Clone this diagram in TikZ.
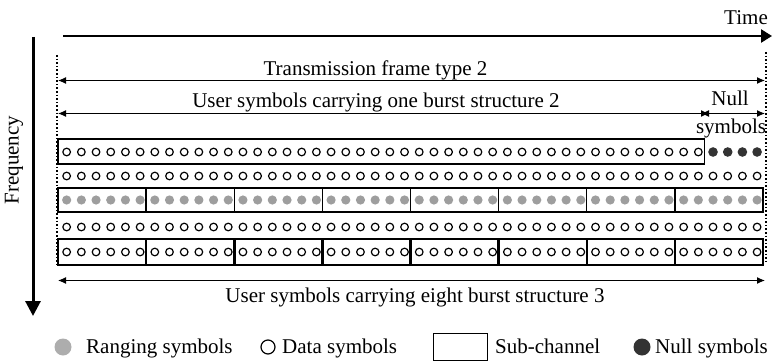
\documentclass[tikz,border=0pt]{standalone}
\usepackage{fontspec}
\setmainfont{Liberation Serif}
\usetikzlibrary{arrows.meta}
\definecolor{rangegray}{HTML}{9E9E9E}
\definecolor{nullgray}{HTML}{333333}
\begin{document}
\begin{tikzpicture}[x=1pt,y=-1pt,
  lbl/.style={font=\fontsize{21}{24}\selectfont, inner sep=0pt},
  thinarrow/.style={line width=1pt, {Latex[length=8pt,width=7pt]}-{Latex[length=8pt,width=7pt]}},
  dcirc/.style={draw=black, line width=1.2pt},
  rcirc/.style={fill=rangegray},
  ncirc/.style={fill=nullgray},
  thinbox/.style={draw=black, line width=1.3pt},
  thickbox/.style={draw=black, line width=2.5pt},
  guide/.style={dotted, line width=1.6pt}]
\useasboundingbox (0,0) rectangle (773,361);
\def\s{14.69}
% axes
\coordinate (t0) at (63,36);
\coordinate (t1) at (772,36);
\draw[line width=2.5pt, -{Triangle[length=11pt,width=13pt]}] (t0) -- (t1);
\node[lbl, anchor=base east] (time) at (768,25) {Time};
\coordinate (f0) at (33,37);
\coordinate (f1) at (33,316);
\draw[line width=3pt, -{Triangle[length=15pt,width=15pt]}] (f0) -- (f1);
\node[lbl, rotate=90] (freq) at (14,160) {Frequency};
% dotted guides
\coordinate (g0) at (57,55);
\coordinate (g1) at (57,264);
\coordinate (g2) at (766,52);
\coordinate (g3) at (766,263);
\draw[guide] (g0) -- (g1);
\draw[guide] (g2) -- (g3);
% dimension arrows
\coordinate (a0) at (58,80.5);
\coordinate (a1) at (765,80.5);
\draw[thinarrow] (a0) -- (a1);
\node[lbl, anchor=base] (tft) at (375.5,75) {Transmission frame type 2};
\coordinate (b0) at (58,113.5);
\coordinate (b1) at (709,113.5);
\coordinate (b2) at (701,113.5);
\coordinate (b3) at (765,113.5);
\draw[thinarrow] (b0) -- (b1);
\draw[thinarrow] (b2) -- (b3);
\node[lbl, anchor=base] (usr2) at (376,107.5) {User symbols carrying one burst structure 2};
\node[lbl, anchor=base] (null) at (730,105) {Null};
\node[lbl, anchor=base] (nsym) at (731,133) {symbols};
\coordinate (c0) at (58,280.5);
\coordinate (c1) at (765,280.5);
\draw[thinarrow] (c0) -- (c1);
\node[lbl, anchor=base] (usr3) at (415,302) {User symbols carrying eight burst structure 3};
% row 1
\draw[thinbox] (58,139) rectangle ({58+44*\s},164);
\foreach \i in {0,...,43} \draw[dcirc] ({58+\s*(\i+0.59)},152) circle (3.8);
\foreach \i in {44,...,47} \fill[ncirc] ({58+\s*(\i+0.59)},152) circle (4.8);
% row 2
\foreach \i in {0,...,47} \draw[dcirc] ({58+\s*(\i+0.59)},176) circle (3.8);
% row 3
\foreach \k in {0,...,7} \draw[thinbox] ({58+6*\k*\s},188) rectangle ({58+6*(\k+1)*\s},212);
\foreach \i in {0,...,47} \fill[rcirc] ({58+\s*(\i+0.59)},200) circle (4.6);
% row 4
\foreach \i in {0,...,47} \draw[dcirc] ({58+\s*(\i+0.59)},227) circle (3.8);
% row 5
\foreach \k in {0,...,7} \draw[thickbox] ({58+6*\k*\s},239) rectangle ({58+6*(\k+1)*\s},265);
\foreach \i in {0,...,47} \draw[dcirc] ({58+\s*(\i+0.59)},252) circle (3.8);
% legend
\fill[rcirc, fill=rangegray!85] (63,347) circle (8.5);
\node[lbl, anchor=base west] (lr) at (86,353) {Ranging symbols};
\draw[dcirc] (268,347) circle (7);
\node[lbl, anchor=base west] (ld) at (282,353) {Data symbols};
\draw[line width=1pt] (433,333) rectangle (487,360);
\node[lbl, anchor=base west] (ls) at (495,353) {Sub-channel};
\fill[ncirc] (642,347) circle (8.5);
\node[lbl, anchor=base west] (ln) at (655,353) {Null symbols};
\end{tikzpicture}
\end{document}
